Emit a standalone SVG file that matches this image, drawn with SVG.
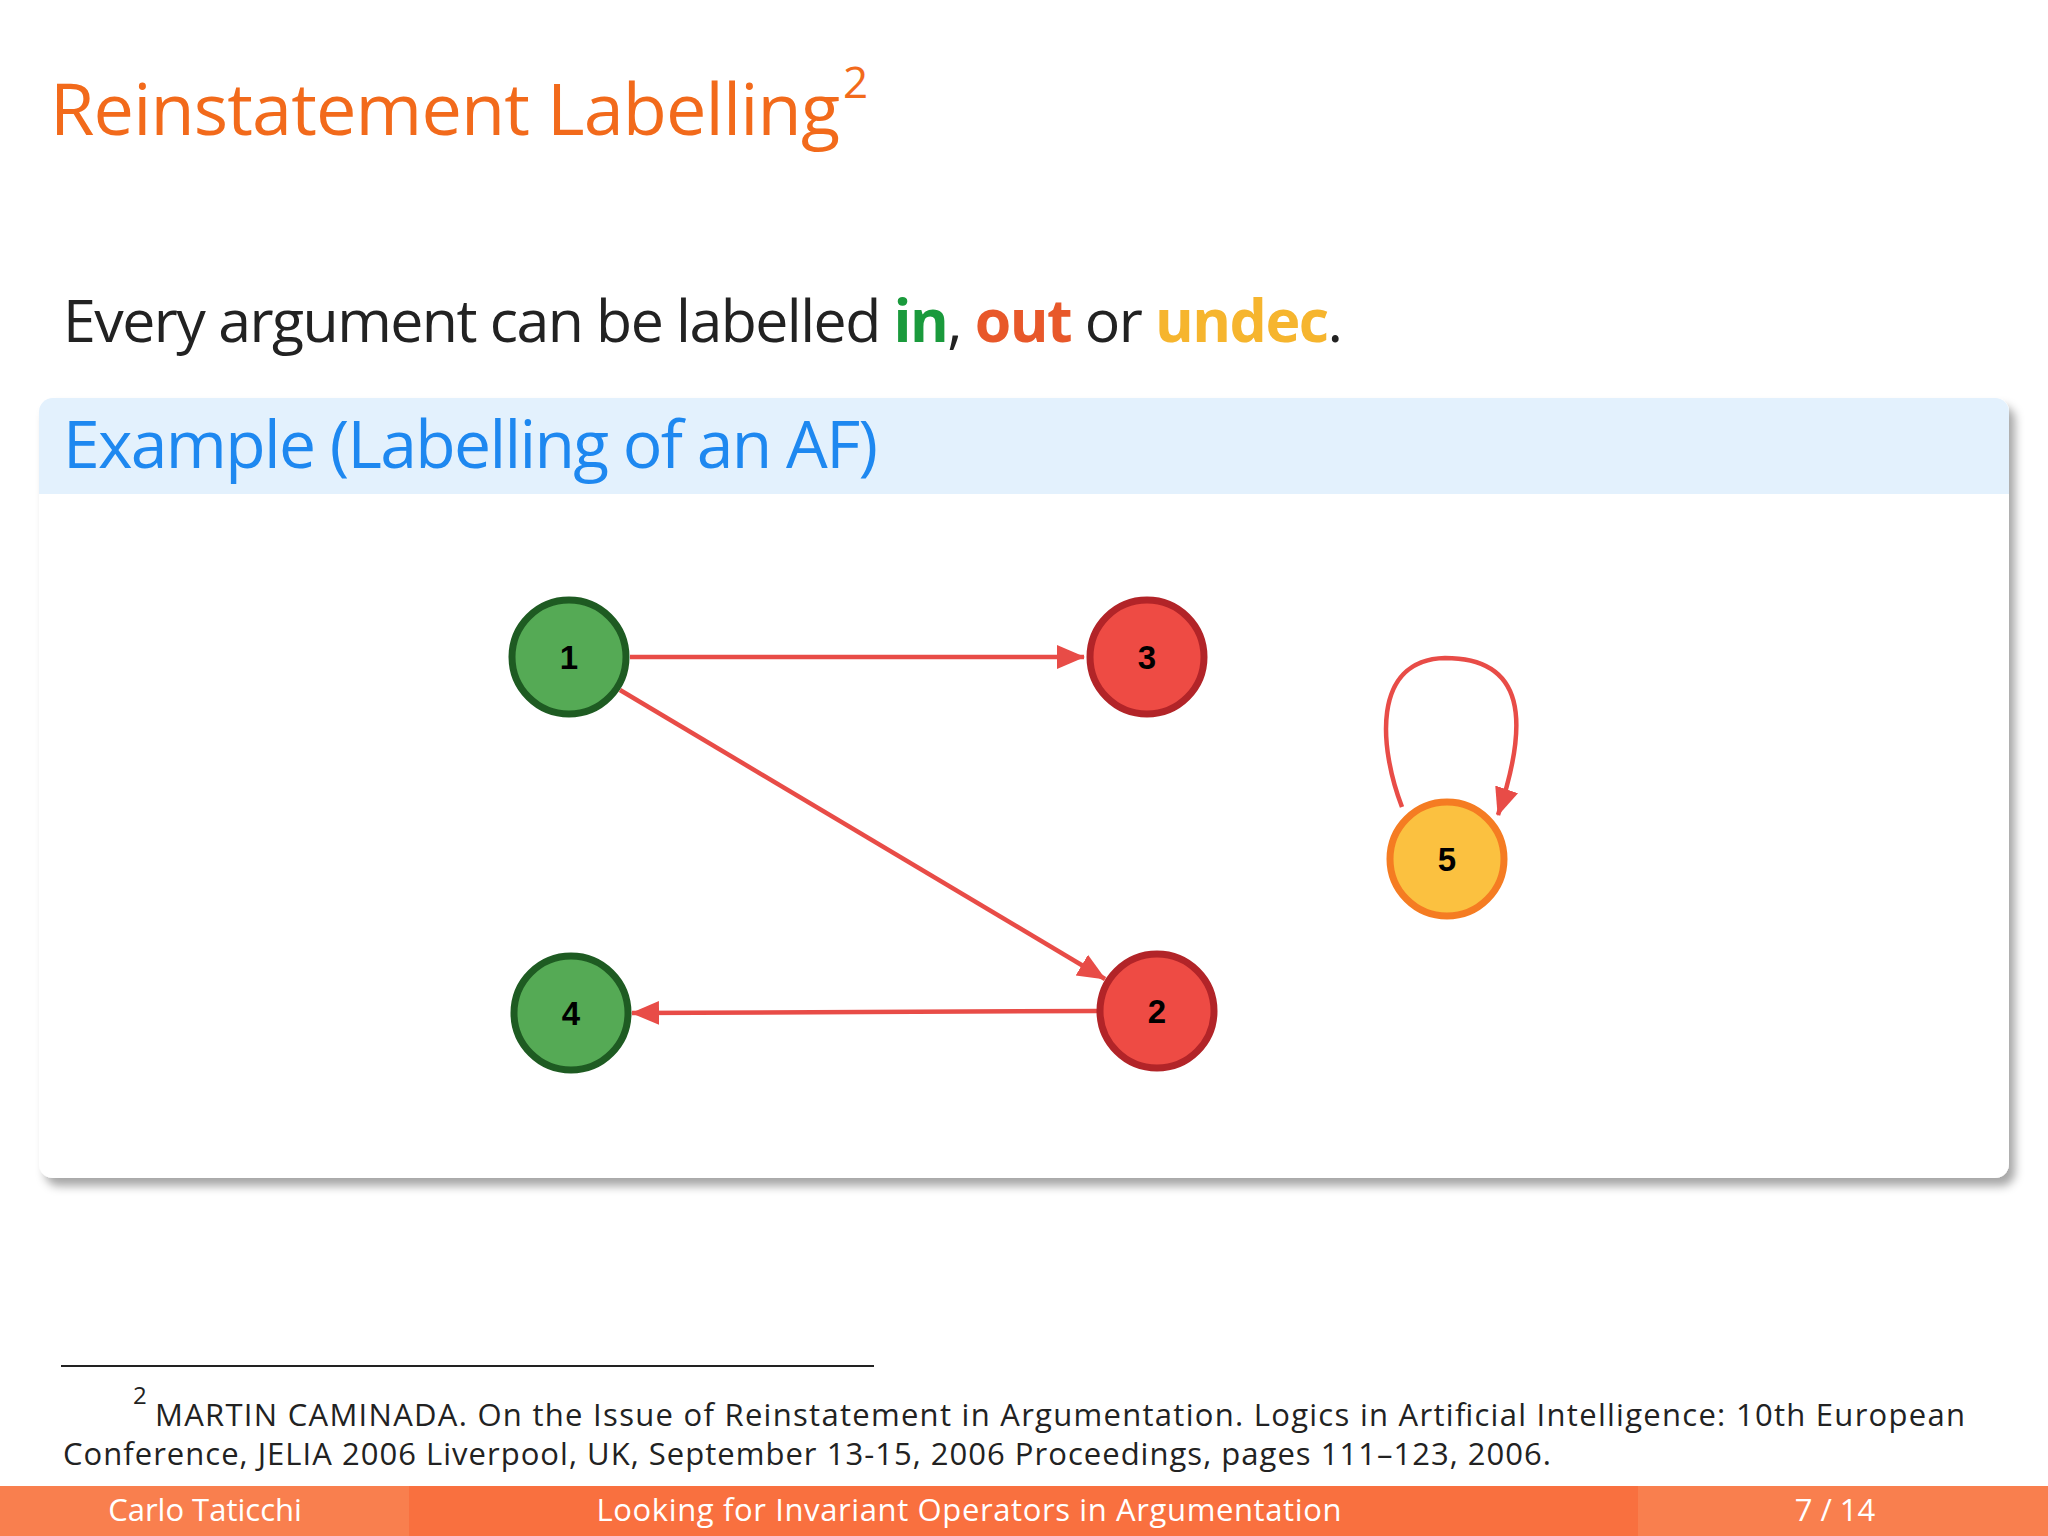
<svg xmlns="http://www.w3.org/2000/svg" width="2048" height="1536" viewBox="0 0 2048 1536">
<defs>
<style>
.t{font-family:"Open Sans","DejaVu Sans",sans-serif}
.n{font-family:"Liberation Sans",Arial,sans-serif;font-weight:bold;font-size:33px;text-anchor:middle}
.e{stroke:#E84C47;stroke-width:4.5;fill:none}
.g{fill:#55AA55;stroke:#1E5B22;stroke-width:7}
.r{fill:#EE4B44;stroke:#B22428;stroke-width:7}
.y{fill:#FBC140;stroke:#F57C22;stroke-width:7}
.f{fill:#fff;font-size:31px}
</style>
<marker id="b" markerWidth="30" markerHeight="30" refX="27" refY="15" orient="auto" markerUnits="userSpaceOnUse"><path d="M0,3 L28,15 L0,27 z" fill="#E84C47"/></marker>
<filter id="s" x="-5%" y="-5%" width="110%" height="115%"><feDropShadow dx="6" dy="8" stdDeviation="5" flood-color="#000" flood-opacity="0.35"/></filter>
</defs>
<rect width="2048" height="1536" fill="#fff"/>
<text class="t" x="50" y="135" font-size="72" fill="#F26A1B" textLength="790">Reinstatement Labelling</text>
<text class="t" x="843" y="98" font-size="44" fill="#F26A1B">2</text>
<text class="t" x="63" y="342" font-size="59" fill="#222" textLength="1280">Every argument can be labelled <tspan fill="#1A9A3C" font-weight="bold">in</tspan>, <tspan fill="#E8582A" font-weight="bold">out</tspan> or <tspan fill="#F6B52E" font-weight="bold">undec</tspan>.</text>
<g id="block">
<rect x="39" y="398" width="1970" height="780" rx="14" fill="#fff" filter="url(#s)"/>
<path d="M39,494 V412 a14,14 0 0 1 14,-14 H1995 a14,14 0 0 1 14,14 V494 z" fill="#E3F1FD"/>
<text class="t" x="63" y="468" font-size="66" fill="#1E88F0" textLength="815">Example (Labelling of an AF)</text>
</g>
<g id="connectors">
<line class="e" x1="630" y1="657" x2="1084" y2="657" marker-end="url(#b)"/>
<line class="e" x1="620" y1="690" x2="1105" y2="979" marker-end="url(#b)"/>
<line class="e" x1="1097" y1="1011" x2="632" y2="1013" marker-end="url(#b)"/>
<path class="e" d="M1402,807 C1380,750 1370,660 1445,658 C1525,658 1530,720 1498,815" marker-end="url(#b)"/>
</g>
<g id="n1"><circle class="g" cx="569" cy="657" r="57"/><text class="n" x="569" y="669">1</text></g>
<g id="n3"><circle class="r" cx="1147" cy="657" r="57"/><text class="n" x="1147" y="669">3</text></g>
<g id="n4"><circle class="g" cx="571" cy="1013" r="57"/><text class="n" x="571" y="1025">4</text></g>
<g id="n2"><circle class="r" cx="1157" cy="1011" r="57"/><text class="n" x="1157" y="1023">2</text></g>
<g id="n5"><circle class="y" cx="1447" cy="859" r="57"/><text class="n" x="1447" y="871">5</text></g>
<line x1="61" y1="1366" x2="874" y2="1366" stroke="#222" stroke-width="2"/>
<text class="t" x="133" y="1404" font-size="24" fill="#222">2</text>
<text class="t" x="155" y="1426" font-size="31" fill="#222" textLength="1810">MARTIN CAMINADA. On the Issue of Reinstatement in Argumentation. Logics in Artificial Intelligence: 10th European</text>
<text class="t" x="63" y="1465" font-size="31" fill="#222" textLength="1488">Conference, JELIA 2006 Liverpool, UK, September 13-15, 2006 Proceedings, pages 111–123, 2006.</text>
<g id="footer">
<rect x="0" y="1486" width="2048" height="50" fill="#F97F4E"/>
<rect x="409" y="1486" width="1229" height="50" fill="#F9703F"/>
<text class="t f" x="205" y="1521" text-anchor="middle">Carlo Taticchi</text>
<text class="t f" x="969" y="1521" text-anchor="middle" textLength="745">Looking for Invariant Operators in Argumentation</text>
<text class="t f" x="1835" y="1521" text-anchor="middle">7 / 14</text>
</g>
</svg>
